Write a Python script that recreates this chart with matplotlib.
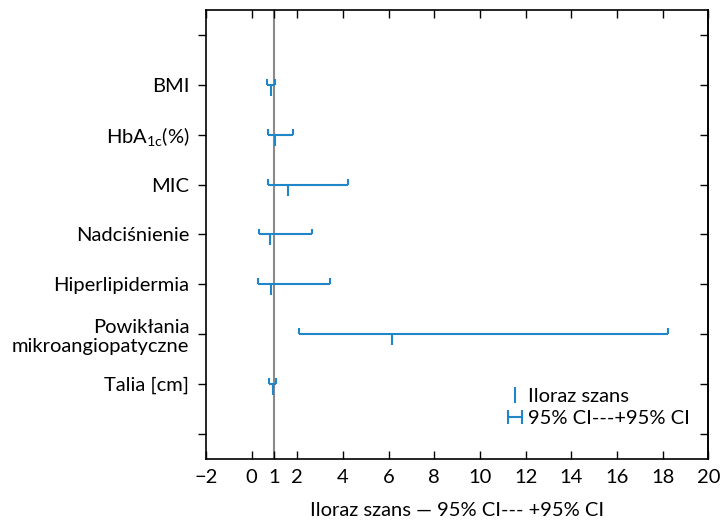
import matplotlib
matplotlib.use("Agg")
import matplotlib.pyplot as plt
from matplotlib.lines import Line2D
from matplotlib.path import Path

plt.rcParams["font.family"] = ["Lato", "DejaVu Sans"]
plt.rcParams["mathtext.fontset"] = "custom"
plt.rcParams["mathtext.rm"] = "Lato"

# rows from top to bottom (blank rows pad the top and bottom)
labels = ["", "BMI", r"HbA$_{\mathregular{1c}}$(%)", "MIC", "Nadciśnienie",
          "Hiperlipidermia", "Powikłania\nmikroangiopatyczne", "Talia [cm]", ""]
rows = [1, 2, 3, 4, 5, 6, 7]
odds = [0.83, 1.02, 1.59, 0.79, 0.84, 6.15, 0.95]
ci_low = [0.69, 0.71, 0.72, 0.30, 0.29, 2.09, 0.77]
ci_high = [1.01, 1.80, 4.24, 2.64, 3.44, 18.25, 1.05]
xticks = [-2, 0, 1, 2, 4, 6, 8, 10, 12, 14, 16, 18, 20]

blue = "#1f86c9"
cap = 0.12
stem = 0.22

fig = plt.figure(figsize=(7.21, 5.20), dpi=100)
ax = fig.add_axes([0.2857, 0.1173, 0.6967, 0.8635])

ax.axvline(1, color="#8a8a8a", linewidth=1.5, zorder=1)

ax.hlines(rows, ci_low, ci_high, color=blue, linewidth=1.5, zorder=3)
ax.vlines(ci_low, [r - cap for r in rows], rows, color=blue, linewidth=1.5, zorder=3)
ax.vlines(ci_high, [r - cap for r in rows], rows, color=blue, linewidth=1.5, zorder=3)
ax.vlines(odds, rows, [r + stem for r in rows], color=blue, linewidth=1.5, zorder=3)

ax.set_xlim(-2, 20)
ax.set_ylim(len(labels) - 0.5, -0.5)
ax.set_xticks(xticks)
ax.set_xticklabels([f"\u2212{abs(t)}" if t < 0 else str(t) for t in xticks])
ax.set_yticks(range(len(labels)))
ax.set_yticklabels(labels, linespacing=1.15)

ax.tick_params(axis="x", direction="in", top=True, length=6, width=1,
               labelsize=14.5, pad=7)
ax.tick_params(axis="y", direction="out", right=False, length=6, width=1,
               labelsize=14.5, pad=6)
sec = ax.secondary_yaxis("right")
sec.set_yticks(range(len(labels)))
sec.tick_params(direction="in", length=6, width=1, labelright=False)

for s in list(ax.spines.values()) + [sec.spines["right"]]:
    s.set_linewidth(1.2)

ax.set_xlabel("Iloraz szans \u2014 95% CI--- +95% CI", fontsize=14.5, labelpad=12)

h_path = Path([(-1, -1), (-1, 1), (-1, 0), (1, 0), (1, -1), (1, 1)],
              [Path.MOVETO, Path.LINETO, Path.MOVETO, Path.LINETO, Path.MOVETO, Path.LINETO])
handles = [
    Line2D([], [], color=blue, marker="|", linestyle="none", markersize=12, markeredgewidth=1.5),
    Line2D([], [], color=blue, marker=h_path, linestyle="none", markersize=10, markeredgewidth=1.5),
]
ax.legend(handles, ["Iloraz szans", "95% CI---+95% CI"], loc="lower right",
          bbox_to_anchor=(1.0, 0.03), frameon=False, fontsize=14.5,
          handlelength=0.6, handletextpad=0.35, labelspacing=0.25)

fig.savefig("out.png", dpi=100)
